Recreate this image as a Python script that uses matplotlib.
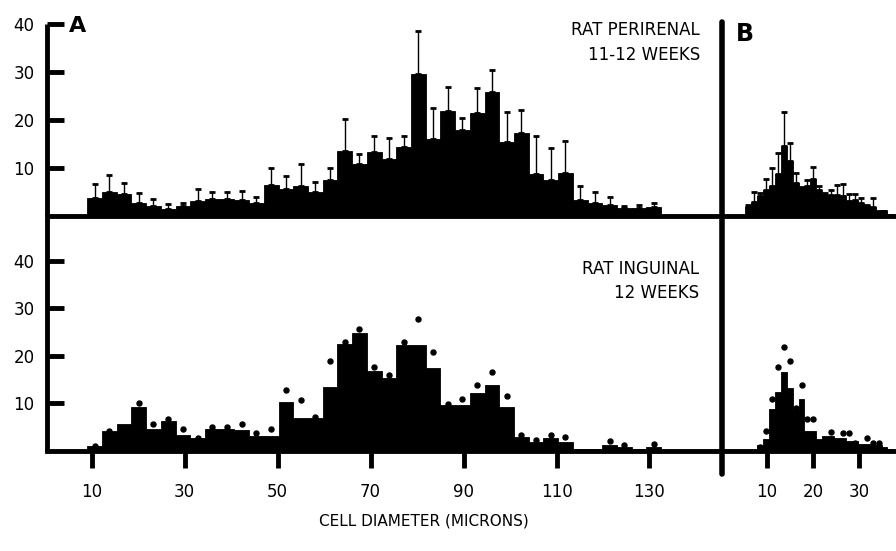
import numpy as np
import matplotlib
matplotlib.use('Agg')
import matplotlib.pyplot as plt
from matplotlib.lines import Line2D

nan = np.nan

# panel A: cell diameter bins (microns)
diam_a = [10.64, 13.81, 16.97, 20.14, 23.30, 26.47, 29.63, 32.80, 35.96, 39.13,
          42.29, 45.46, 48.62, 51.79, 54.95, 58.12, 61.28, 64.45, 67.61, 70.78,
          73.94, 77.11, 80.27, 83.44, 86.60, 89.77, 92.93, 96.10, 99.26, 102.43,
          105.59, 108.76, 111.92, 115.09, 118.25, 121.42, 124.58, 127.75, 130.91]

perirenal_mean = [3.7, 4.9, 4.6, 2.7, 2.0, 1.5, 2.1, 3.2, 3.6, 3.6,
                  3.4, 2.7, 6.5, 5.6, 6.3, 5.1, 7.5, 13.5, 10.8, 13.3,
                  11.8, 14.4, 29.6, 16.1, 21.9, 18.0, 21.5, 25.8, 15.5, 17.3,
                  8.7, 7.5, 8.9, 3.4, 2.7, 2.3, 1.6, 1.6, 1.8]
perirenal_sd = [6.6, 8.5, 6.8, 4.7, 3.5, 2.4, 2.8, 5.7, 5.1, 5.1,
                5.3, 4.0, 10.1, 8.4, 10.8, 7.0, 9.9, 20.3, 13.0, 16.7,
                16.3, 16.6, 38.6, 22.4, 26.8, 20.5, 26.6, 30.5, 21.7, 22.1,
                16.6, 14.1, 15.6, 6.3, 4.9, 4.0, 2.1, 2.3, 2.7]

inguinal_mean = [1.0, 4.1, 5.7, 9.3, 4.7, 6.4, 3.4, 2.7, 4.6, 4.6,
                 4.5, 3.2, 3.2, 10.3, 7.0, 7.0, 13.5, 22.4, 24.7, 16.9,
                 15.3, 22.2, 22.2, 17.4, 9.6, 9.6, 12.1, 13.9, 9.3, 3.0,
                 1.8, 2.8, 1.8, 0.4, 0.4, 1.3, 0.9, 0.4, 0.9]
inguinal_dots = [1.1, 4.3, nan, 10.0, 5.7, 6.8, 4.7, 2.8, 5.0, 5.0,
                 5.7, 3.8, 4.6, 12.8, 10.7, 7.1, 18.9, 22.9, 25.6, 17.7,
                 16.0, 22.9, 27.7, 20.8, 9.9, 10.9, 13.8, 16.7, 11.6, 3.3,
                 2.3, 3.3, 3.0, nan, nan, 2.2, 1.3, nan, 1.4]

# panel B
diam_b = [6.0, 7.28, 8.56, 9.84, 11.12, 12.4, 13.68, 14.96, 16.24, 17.52,
          18.8, 20.08, 21.36, 22.64, 23.92, 25.2, 26.48, 27.76, 29.04, 30.32,
          31.6, 32.88, 34.16, 35.44, 36.72]
b_top_mean = [1.8, 3.0, 4.2, 5.5, 6.2, 8.8, 14.5, 11.5, 6.8, 5.9,
              6.2, 7.8, 5.5, 4.4, 4.4, 4.4, 4.2, 3.2, 3.3, 2.8,
              2.0, 1.8, 1.3, 1.1, 0.5]
b_top_sd = [2.3, 5.1, 4.8, 7.8, 9.9, 13.2, 21.6, 15.2, 8.9, 6.1,
            7.5, 10.3, 6.2, 4.8, 5.5, 6.4, 6.7, 4.6, 4.6, 3.7,
            2.2, 3.7, nan, 1.1, nan]
b_bot_mean = [0.0, 0.3, 1.3, 2.5, 8.9, 12.3, 16.5, 13.3, 8.7, 11.0,
              4.1, 4.1, 2.5, 3.2, 3.2, 2.7, 2.7, 2.0, 2.0, 1.5,
              1.5, 1.3, 1.3, 0.9, 0.5]
b_bot_dots = [nan, nan, 0.9, 4.1, 11.0, 17.7, 21.8, 18.9, 9.0, 13.8,
              6.7, 6.7, nan, nan, 3.9, nan, 3.8, 3.8, 1.6, nan,
              2.8, 1.6, 1.6, nan, nan]

W, H = 896, 551
LW = 3.5
FS = 12

fig = plt.figure(figsize=(W / 100, H / 100), dpi=100)


def add_ax(left, top, right, bottom):
    return fig.add_axes([left / W, 1 - bottom / H, (right - left) / W, (bottom - top) / H])


def style(ax, left_spine):
    for s in ['top', 'right']:
        ax.spines[s].set_visible(False)
    ax.spines['left'].set_visible(left_spine)
    ax.spines['left'].set_linewidth(LW)
    ax.spines['bottom'].set_linewidth(LW)
    ax.spines['left'].set_capstyle('butt')
    ax.patch.set_alpha(0)
    ax.tick_params(axis='y', direction='in', length=12, width=LW, pad=9, labelsize=FS)
    ax.tick_params(axis='x', direction='out', length=12, width=LW, pad=11, labelsize=FS)


def bars(ax, x, mean, width):
    ax.bar(x, mean, width=width, color='k', edgecolor='k', linewidth=0.6, zorder=2)


def errs(ax, x, mean, top):
    x, mean, top = np.array(x), np.array(mean), np.array(top)
    m = ~np.isnan(top)
    ax.errorbar(x[m], top[m], yerr=[top[m] - mean[m], np.zeros(m.sum())],
                fmt='none', ecolor='k', elinewidth=1.0, capsize=2.5, capthick=2,
                zorder=3)


def dots(ax, x, d):
    ax.plot(x, d, 'o', color='k', ms=3.6, ls='none', zorder=3)


ax_at = add_ax(47, 24, 722, 216)
ax_ab = add_ax(47, 218, 722, 451)
ax_bt = add_ax(722, 24, 935, 216)
ax_bb = add_ax(722, 218, 935, 451)

for ax in [ax_at, ax_ab]:
    style(ax, True)
    ax.set_xlim(0.4, 145.6)
for ax in [ax_bt, ax_bb]:
    style(ax, False)
    ax.set_xlim(0.35, 46.35)
    ax.set_yticks([])

ax_at.set_ylim(0, 40)
ax_bt.set_ylim(0, 40)
ax_ab.set_ylim(0, 48.95)
ax_bb.set_ylim(0, 48.95)

for ax in [ax_at, ax_ab]:
    ax.set_yticks([10, 20, 30, 40])
ax_at.set_xticks([])
ax_bt.set_xticks([])
ax_ab.set_xticks([10, 30, 50, 70, 90, 110, 130])
ax_bb.set_xticks([10, 20, 30, 40])

bars(ax_at, diam_a, perirenal_mean, 3.165)
errs(ax_at, diam_a, perirenal_mean, perirenal_sd)
bars(ax_ab, diam_a, inguinal_mean, 3.165)
dots(ax_ab, diam_a, inguinal_dots)

bars(ax_bt, diam_b, b_top_mean, 1.28)
errs(ax_bt, diam_b, b_top_mean, b_top_sd)
bars(ax_bb, diam_b, b_bot_mean, 1.28)
dots(ax_bb, diam_b, b_bot_dots)

# vertical divider for panel B
fig.add_artist(Line2D([722 / W, 722 / W], [1 - 22 / H, 1 - 474 / H],
                      transform=fig.transFigure, color='k', lw=4, solid_capstyle='round'))

fig.text(69 / W, 1 - 26 / H, 'A', fontsize=16, fontweight='heavy', va='center', ha='left')
fig.text(736 / W, 1 - 34 / H, 'B', fontsize=17, fontweight='heavy', va='center', ha='left')

for txt, y in [('RAT PERIRENAL', 30), ('11-12 WEEKS', 55)]:
    fig.text(700 / W, 1 - y / H, txt, ha='right', va='center', fontsize=12)
for txt, y in [('RAT INGUINAL', 269), ('12 WEEKS', 293)]:
    fig.text(699 / W, 1 - y / H, txt, ha='right', va='center', fontsize=12)

fig.text(424 / W, 1 - 521 / H, 'CELL DIAMETER (MICRONS)', ha='center', va='center',
         fontsize=11)

fig.savefig('out.png', dpi=100)
